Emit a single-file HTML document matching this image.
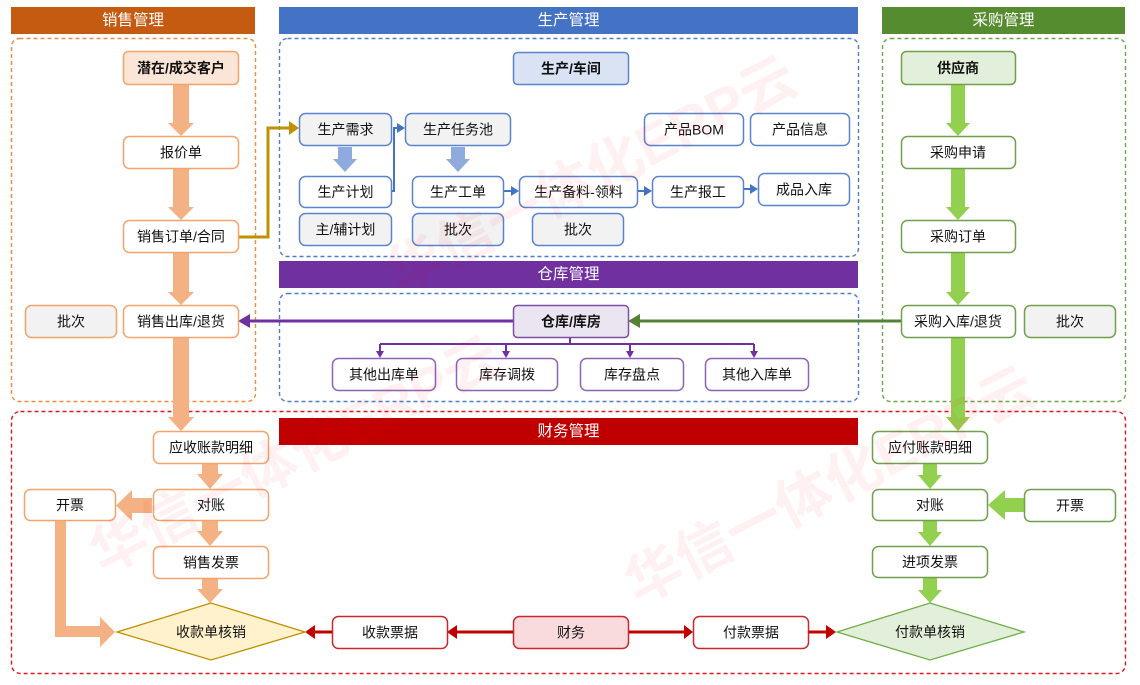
<!DOCTYPE html>
<html><head><meta charset="utf-8"><style>
html,body{margin:0;padding:0;background:#fff;}
svg{display:block;font-family:"Liberation Sans","Noto Sans CJK SC",sans-serif;}
</style></head><body>
<svg width="1140" height="685" viewBox="0 0 1140 685" xmlns="http://www.w3.org/2000/svg">
<rect x="0" y="0" width="1140" height="685" fill="#fff"/>

<!-- Dashed containers -->
<rect x="11.5" y="38.5" width="244" height="363" rx="8" fill="none" stroke="#F08A3C" stroke-width="1.4" stroke-dasharray="4,3"/>
<rect x="279.5" y="38.5" width="579" height="218" rx="8" fill="none" stroke="#4F7BCB" stroke-width="1.4" stroke-dasharray="4,3"/>
<rect x="882.5" y="38.5" width="243" height="363" rx="8" fill="none" stroke="#6EA548" stroke-width="1.4" stroke-dasharray="4,3"/>
<rect x="279.5" y="293.5" width="579" height="108" rx="8" fill="none" stroke="#4F7BCB" stroke-width="1.4" stroke-dasharray="4,3"/>
<rect x="11.5" y="411.5" width="1114" height="262" rx="9" fill="none" stroke="#E0141E" stroke-width="1.4" stroke-dasharray="4,3"/>

<!-- Headers -->
<g font-size="15.5" fill="#fff" text-anchor="middle" dominant-baseline="central">
<rect x="11" y="7" width="244" height="27" fill="#C55A11"/><text x="133" y="20.5">销售管理</text>
<rect x="279" y="7" width="579" height="27" fill="#4472C4"/><text x="568.5" y="20.5">生产管理</text>
<rect x="882" y="7" width="243" height="27" fill="#548C2F"/><text x="1003.5" y="20.5">采购管理</text>
<rect x="279" y="261" width="579" height="27" fill="#7030A0"/><text x="568.5" y="274.5">仓库管理</text>
<rect x="279" y="418" width="579" height="27" fill="#C00000"/><text x="568.5" y="431.5">财务管理</text>
</g>

<!-- Thick arrows: sales -->
<g fill="#F4B183">
<polygon points="173,84 189,84 189,123 194,123 181,136 168,123 173,123"/>
<polygon points="173,168 189,168 189,207 194,207 181,220 168,207 173,207"/>
<polygon points="173,252 189,252 189,292 194,292 181,305 168,292 173,292"/>
<polygon points="173,337 189,337 189,417 194,417 181,431 168,417 173,417"/>
<polygon points="202,463 218,463 218,474 223,474 210,489 197,474 202,474"/>
<polygon points="202,520 218,520 218,531 223,531 210,546 197,531 202,531"/>
<polygon points="202,578 218,578 218,589 223,589 210,603 197,589 202,589"/>
<polygon points="152,498 132,498 132,490 116,505.5 132,521 132,513 152,513"/>
<polygon points="55,520 66,520 66,626 100,626 100,617 115,632 100,647 100,637 55,637"/>
</g>

<!-- Thick arrows: purchase -->
<g fill="#92D050">
<polygon points="951,84 965,84 965,123 970,123 958,136 946,123 951,123"/>
<polygon points="951,168 965,168 965,207 970,207 958,220 946,207 951,207"/>
<polygon points="951,252 965,252 965,292 970,292 958,305 946,292 951,292"/>
<polygon points="951,337 965,337 965,417 970,417 958,431 946,417 951,417"/>
<polygon points="923,463 937,463 937,475 942,475 930,489 918,475 923,475"/>
<polygon points="923,520 937,520 937,532 942,532 930,546 918,532 923,532"/>
<polygon points="923,578 937,578 937,590 942,590 930,603 918,590 923,590"/>
<polygon points="1024,498 1005,498 1005,490 988,505 1005,520 1005,512 1024,512"/>
</g>

<!-- Production thick arrows -->
<g fill="#8FAADC">
<polygon points="338,147 352,147 352,159 357,159 345,172 333,159 338,159"/>
<polygon points="451,147 465,147 465,159 470,159 458,172 446,159 451,159"/>
</g>

<!-- Golden connector -->
<polyline points="238,237 268,237 268,128 290,128" fill="none" stroke="#BF9000" stroke-width="3"/>
<polygon points="289,121 299,128 289,135" fill="#BF9000"/>

<!-- Thin production connectors -->
<g stroke="#4472C4" stroke-width="2" fill="none">
<polyline points="391,191 394,191 394,128 398,128"/>
<line x1="503" y1="191" x2="512" y2="191"/>
<line x1="637" y1="191" x2="645" y2="191"/>
<line x1="743" y1="189" x2="751" y2="189"/>
</g>
<g fill="#4472C4">
<polygon points="397,123 405,128 397,133"/>
<polygon points="511,186 519,191 511,196"/>
<polygon points="644,186 652,191 644,196"/>
<polygon points="750,184 758,189 750,194"/>
</g>

<!-- Warehouse connectors -->
<line x1="513" y1="321" x2="247" y2="321" stroke="#7030A0" stroke-width="3"/>
<polygon points="250,314 238,321 250,328" fill="#7030A0"/>
<line x1="901" y1="321" x2="638" y2="321" stroke="#548235" stroke-width="3"/>
<polygon points="640,314 628,321 640,328" fill="#548235"/>
<g stroke="#7030A0" stroke-width="2" fill="none">
<polyline points="570,337 570,344"/>
<line x1="380" y1="344" x2="754" y2="344"/>
<line x1="380" y1="344" x2="380" y2="352"/>
<line x1="506" y1="344" x2="506" y2="352"/>
<line x1="630" y1="344" x2="630" y2="352"/>
<line x1="754" y1="344" x2="754" y2="352"/>
</g>
<g fill="#7030A0">
<polygon points="376,351 384,351 380,358"/>
<polygon points="502,351 510,351 506,358"/>
<polygon points="626,351 634,351 630,358"/>
<polygon points="750,351 758,351 754,358"/>
</g>

<!-- Finance bottom connectors -->
<g stroke="#C00000" stroke-width="3">
<line x1="513" y1="632" x2="455" y2="632"/>
<line x1="332" y1="632" x2="313" y2="632"/>
<line x1="628" y1="632" x2="685" y2="632"/>
<line x1="808" y1="632" x2="827" y2="632"/>
</g>
<g fill="#C00000">
<polygon points="457,625 447,632 457,639"/>
<polygon points="315,625 305,632 315,639"/>
<polygon points="684,625 693,632 684,639"/>
<polygon points="826,625 836,632 826,639"/>
</g>

<!-- Diamonds -->
<polygon points="117,632 211,603 305,632 211,660" fill="#FFF2CC" stroke="#BF9000" stroke-width="1.3"/>
<polygon points="837,632 930,603 1024,632 930,660" fill="#E2EFDA" stroke="#70AD47" stroke-width="1.3"/>

<!-- Nodes -->
<g stroke-width="1.5">
<rect x="123.5" y="51.5" width="115" height="33" rx="5" fill="#FBE5D6" stroke="#F4A46A"/>
<rect x="123.5" y="136.5" width="115" height="32" rx="6" fill="#fff" stroke="#F4A46A"/>
<rect x="123.5" y="220.5" width="115" height="32" rx="6" fill="#fff" stroke="#F4A46A"/>
<rect x="123.5" y="305.5" width="115" height="32" rx="6" fill="#fff" stroke="#F4A46A"/>
<rect x="25.5" y="305.5" width="91" height="32" rx="6" fill="#F2F2F2" stroke="#F4A46A"/>
<rect x="901.5" y="51.5" width="114" height="33" rx="5" fill="#E2EFDA" stroke="#70A04A"/>
<rect x="901.5" y="136.5" width="114" height="32" rx="6" fill="#fff" stroke="#70A04A"/>
<rect x="901.5" y="220.5" width="114" height="32" rx="6" fill="#fff" stroke="#70A04A"/>
<rect x="901.5" y="305.5" width="114" height="32" rx="6" fill="#fff" stroke="#70A04A"/>
<rect x="1024.5" y="305.5" width="91" height="32" rx="6" fill="#F2F2F2" stroke="#70A04A"/>
<rect x="513.5" y="52.5" width="115" height="32" rx="4" fill="#DAE3F3" stroke="#5B83D0"/>
<rect x="299.5" y="113.5" width="92" height="32" rx="6" fill="#F2F2F2" stroke="#5B83D0"/>
<rect x="405.5" y="113.5" width="105" height="32" rx="6" fill="#F2F2F2" stroke="#5B83D0"/>
<rect x="644.5" y="113.5" width="99" height="32" rx="6" fill="#fff" stroke="#5B83D0"/>
<rect x="750.5" y="113.5" width="99" height="32" rx="6" fill="#fff" stroke="#5B83D0"/>
<rect x="299.5" y="176.5" width="92" height="31" rx="6" fill="#fff" stroke="#5B83D0"/>
<rect x="412.5" y="176.5" width="91" height="31" rx="6" fill="#fff" stroke="#5B83D0"/>
<rect x="519.5" y="176.5" width="118" height="31" rx="6" fill="#fff" stroke="#5B83D0"/>
<rect x="652.5" y="176.5" width="91" height="31" rx="6" fill="#fff" stroke="#5B83D0"/>
<rect x="758.5" y="173.5" width="91" height="32" rx="6" fill="#fff" stroke="#5B83D0"/>
<rect x="299.5" y="213.5" width="92" height="32" rx="6" fill="#F2F2F2" stroke="#5B83D0"/>
<rect x="412.5" y="213.5" width="91" height="32" rx="6" fill="#F2F2F2" stroke="#5B83D0"/>
<rect x="532.5" y="213.5" width="91" height="32" rx="6" fill="#F2F2F2" stroke="#5B83D0"/>
<rect x="513.5" y="305.5" width="115" height="32" rx="4" fill="#EAE5F0" stroke="#7F4FA8"/>
<rect x="332.5" y="358.5" width="103" height="32" rx="6" fill="#fff" stroke="#8E63B8"/>
<rect x="456.5" y="358.5" width="101" height="32" rx="6" fill="#fff" stroke="#8E63B8"/>
<rect x="580.5" y="358.5" width="103" height="32" rx="6" fill="#fff" stroke="#8E63B8"/>
<rect x="705.5" y="358.5" width="103" height="32" rx="6" fill="#fff" stroke="#8E63B8"/>
<rect x="153.5" y="431.5" width="115" height="32" rx="6" fill="#fff" stroke="#F4A46A"/>
<rect x="153.5" y="489.5" width="115" height="31" rx="6" fill="#fff" stroke="#F4A46A"/>
<rect x="153.5" y="546.5" width="115" height="32" rx="6" fill="#fff" stroke="#F4A46A"/>
<rect x="24.5" y="489.5" width="91" height="31" rx="6" fill="#fff" stroke="#F4A46A"/>
<rect x="332.5" y="616.5" width="115" height="32" rx="6" fill="#fff" stroke="#C8282D"/>
<rect x="513.5" y="616.5" width="115" height="32" rx="6" fill="#F9DADD" stroke="#C8282D"/>
<rect x="693.5" y="616.5" width="115" height="32" rx="6" fill="#fff" stroke="#C8282D"/>
<rect x="872.5" y="431.5" width="115" height="32" rx="6" fill="#fff" stroke="#70A04A"/>
<rect x="872.5" y="489.5" width="115" height="31" rx="6" fill="#fff" stroke="#70A04A"/>
<rect x="872.5" y="546.5" width="115" height="31" rx="6" fill="#fff" stroke="#70A04A"/>
<rect x="1024.5" y="489.5" width="91" height="32" rx="6" fill="#fff" stroke="#70A04A"/>
</g>

<!-- Labels -->
<g font-size="14" fill="#111" text-anchor="middle" dominant-baseline="central">
<text x="181" y="68" font-weight="bold">潜在/成交客户</text>
<text x="181" y="152.5">报价单</text>
<text x="181" y="236.5">销售订单/合同</text>
<text x="181" y="321.5">销售出库/退货</text>
<text x="71" y="321.5">批次</text>

<text x="958" y="68" font-weight="bold">供应商</text>
<text x="958" y="152.5">采购申请</text>
<text x="958" y="236.5">采购订单</text>
<text x="958" y="321.5">采购入库/退货</text>
<text x="1070" y="321.5">批次</text>

<text x="571" y="68.5" font-weight="bold">生产/车间</text>
<text x="345.5" y="129.5">生产需求</text>
<text x="458" y="129.5">生产任务池</text>
<text x="694" y="129.5">产品BOM</text>
<text x="800" y="129.5">产品信息</text>
<text x="345.5" y="192">生产计划</text>
<text x="458" y="192">生产工单</text>
<text x="578.5" y="192">生产备料-领料</text>
<text x="698" y="192">生产报工</text>
<text x="804" y="189.5">成品入库</text>
<text x="345.5" y="229.5">主/辅计划</text>
<text x="458" y="229.5">批次</text>
<text x="578" y="229.5">批次</text>

<text x="571" y="321.5" font-weight="bold">仓库/库房</text>
<text x="384" y="374.5">其他出库单</text>
<text x="507" y="374.5">库存调拨</text>
<text x="632" y="374.5">库存盘点</text>
<text x="757" y="374.5">其他入库单</text>

<text x="211" y="447.5">应收账款明细</text>
<text x="211" y="505">对账</text>
<text x="211" y="562.5">销售发票</text>
<text x="70" y="505">开票</text>
<text x="211" y="632">收款单核销</text>

<text x="390" y="632.5">收款票据</text>
<text x="571" y="632.5">财务</text>
<text x="751" y="632.5">付款票据</text>

<text x="930" y="447.5">应付账款明细</text>
<text x="930" y="505">对账</text>
<text x="930" y="562">进项发票</text>
<text x="1070" y="505.5">开票</text>
<text x="930" y="632">付款单核销</text>
</g>

<!-- Watermarks -->
<g font-size="56" font-weight="bold" fill="#ff0000" fill-opacity="0.055" text-anchor="middle" dominant-baseline="central">
<text x="295" y="455" transform="rotate(-27 295 455)">华信一体化ERP云</text>
<text x="591" y="175" transform="rotate(-27 591 175)">华信一体化ERP云</text>
<text x="830" y="485" transform="rotate(-27 830 485)">华信一体化ERP云</text>
</g>
</svg>
</body></html>
